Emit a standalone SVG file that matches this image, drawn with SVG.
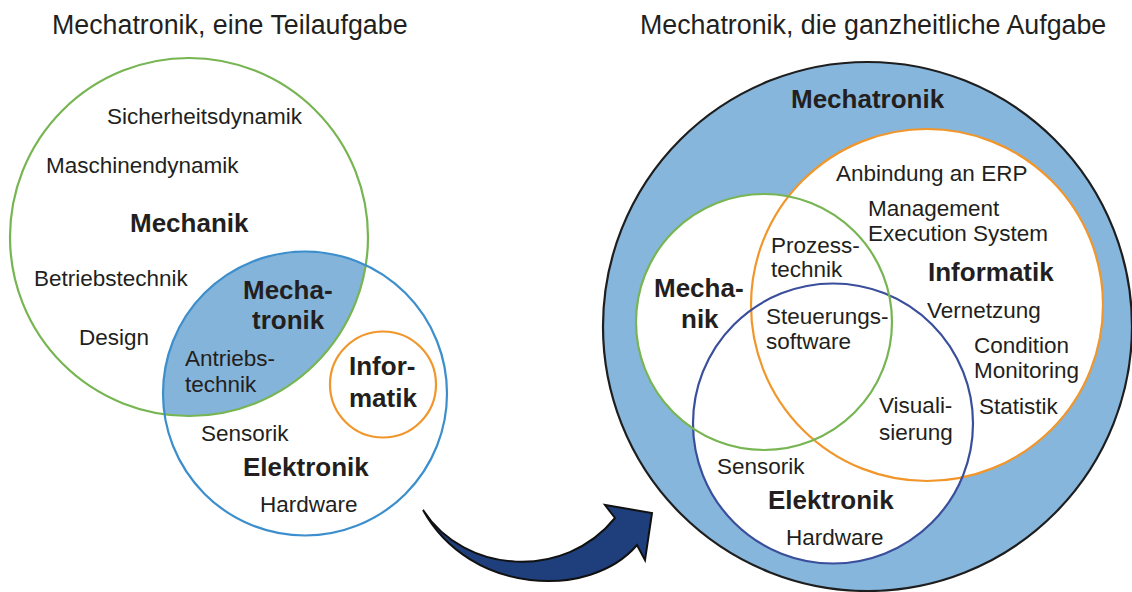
<svg xmlns="http://www.w3.org/2000/svg" width="1132" height="592" viewBox="0 0 1132 592">
  <style>
    .t { font-family: "Liberation Sans", Arial, sans-serif; fill: #231f20; }
    .title { font-size: 26.8px; }
    .n { font-size: 22.5px; }
    .b { font-size: 26px; font-weight: bold; }
    .big { font-size: 26px; font-weight: bold; }
    .ring { fill: none; stroke-width: 2.2; }
    .green { stroke: #77b552; }
    .lblue { stroke: #3c8fcc; }
    .orange { stroke: #f0962b; }
    .navy { stroke: #3a4f9c; }
  </style>
  <defs>
    <clipPath id="clipMechanik">
      <circle cx="189" cy="237" r="179"/>
    </clipPath>
  </defs>

  <!-- Titles -->
  <text class="t title" x="52" y="34">Mechatronik, eine Teilaufgabe</text>
  <text class="t title" x="640" y="34">Mechatronik, die ganzheitliche Aufgabe</text>

  <!-- Left: Mechatronik as a partial task -->
  <g id="left-mechatronik">
    <circle cx="305" cy="393.5" r="142" fill="#84b4da" clip-path="url(#clipMechanik)"/>
  </g>
  <g id="left-mechanik">
    <circle class="ring green" cx="189" cy="237" r="179"/>
    <text class="t n" x="107" y="124">Sicherheitsdynamik</text>
    <text class="t n" x="46" y="173">Maschinendynamik</text>
    <text class="t b" x="130" y="232">Mechanik</text>
    <text class="t n" x="34" y="286">Betriebstechnik</text>
    <text class="t n" x="79" y="345">Design</text>
  </g>
  <g id="left-elektronik">
    <circle class="ring lblue" cx="305" cy="393.5" r="142"/>
    <text class="t n" x="201" y="441">Sensorik</text>
    <text class="t b" x="243" y="476">Elektronik</text>
    <text class="t n" x="260" y="512">Hardware</text>
  </g>
  <g id="left-mechatronik-labels">
    <text class="t b" x="243" y="299">Mecha-</text>
    <text class="t b" x="252" y="329">tronik</text>
    <text class="t n" x="185" y="366">Antriebs-</text>
    <text class="t n" x="185" y="392">technik</text>
  </g>
  <g id="left-informatik">
    <circle class="ring orange" cx="383" cy="384.5" r="53"/>
    <text class="t b" x="349" y="375">Infor-</text>
    <text class="t b" x="349" y="407">matik</text>
  </g>

  <!-- Transition arrow -->
  <g id="connectors">
    <path d="M423,510 C465,575 565,580 615,518 L605,505 L652,513 L645,560 L637,545 C590,600 470,595 423,510 Z"
          fill="#1f3f7c" stroke="#111" stroke-width="2" stroke-linejoin="miter"/>
  </g>

  <!-- Right: Mechatronik as the holistic task -->
  <g id="right-mechatronik">
    <circle cx="867.5" cy="326.5" r="264.5" fill="#87b6dc" stroke="#1e1e1e" stroke-width="2.2"/>
    <circle cx="927" cy="305" r="176" fill="#fff"/>
    <circle cx="764" cy="322" r="128" fill="#fff"/>
    <circle cx="833" cy="423.5" r="140" fill="#fff"/>
    <text class="t big" x="791" y="108">Mechatronik</text>
  </g>
  <g id="right-informatik">
    <circle class="ring orange" cx="927" cy="305" r="176"/>
    <text class="t n" x="836" y="181">Anbindung an ERP</text>
    <text class="t n" x="868" y="216">Management</text>
    <text class="t n" x="868" y="241">Execution System</text>
    <text class="t b" x="928" y="281">Informatik</text>
    <text class="t n" x="927" y="318">Vernetzung</text>
    <text class="t n" x="974" y="353">Condition</text>
    <text class="t n" x="974" y="378">Monitoring</text>
    <text class="t n" x="979" y="414">Statistik</text>
  </g>
  <g id="right-elektronik">
    <circle class="ring navy" cx="833" cy="423.5" r="140"/>
    <text class="t n" x="717" y="474">Sensorik</text>
    <text class="t b" x="768" y="509">Elektronik</text>
    <text class="t n" x="786" y="545">Hardware</text>
  </g>
  <g id="right-mechanik">
    <circle class="ring green" cx="764" cy="322" r="128" stroke-width="3"/>
    <text class="t b" x="654" y="297">Mecha-</text>
    <text class="t b" x="681" y="328">nik</text>
  </g>
  <g id="right-overlaps">
    <text class="t n" x="771" y="253">Prozess-</text>
    <text class="t n" x="771" y="277">technik</text>
    <text class="t n" x="766" y="324">Steuerungs-</text>
    <text class="t n" x="766" y="349">software</text>
    <text class="t n" x="879" y="413">Visuali-</text>
    <text class="t n" x="879" y="440">sierung</text>
  </g>
</svg>
